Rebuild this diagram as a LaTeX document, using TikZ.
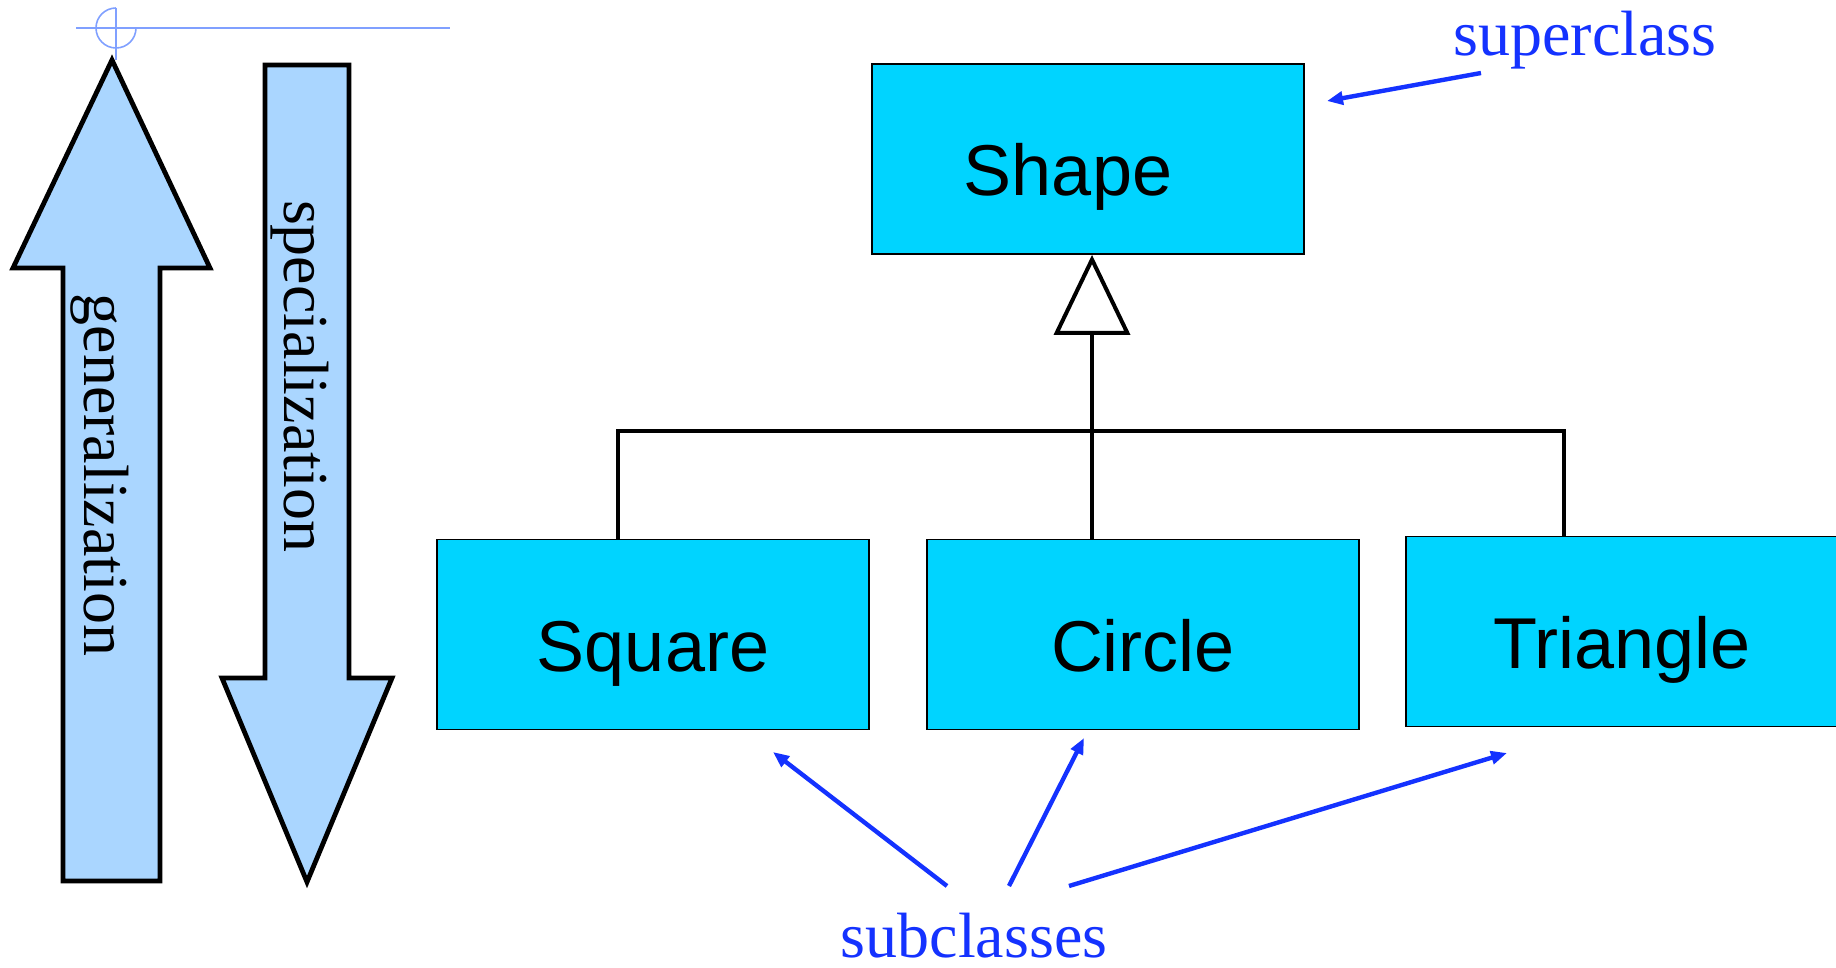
\documentclass[tikz,border=0pt]{standalone}
\usepackage{fontspec}
\setmainfont{Liberation Serif}
\newfontfamily\boxfont{Liberation Sans}
\usetikzlibrary{arrows.meta}

\definecolor{boxcyan}{RGB}{0,212,255}
\definecolor{arrowblue}{RGB}{170,214,255}
\definecolor{noteblue}{RGB}{20,50,255}
\definecolor{guideblue}{RGB}{128,160,255}

\tikzset{
  cls/.style={draw=black, line width=0.9pt, fill=boxcyan,
    minimum width=216pt, minimum height=95pt, inner sep=0pt,
    text height=37pt, text depth=0pt, font=\boxfont\fontsize{36}{40}\selectfont},
  link/.style={line width=2pt},
  inherit/.style={line width=2pt, -{Triangle[open, length=40pt, width=38pt]}},
  bigarrow/.style={draw=black, line width=2.4pt, fill=arrowblue, line join=miter},
  note/.style={text=noteblue, font=\fontsize{32}{36}\selectfont},
  pointer/.style={draw=noteblue, line width=2.2pt, -{Triangle[length=8pt, width=6.5pt]}},
}

\begin{document}
\begin{tikzpicture}[x=0.5pt, y=-0.5pt]
  \useasboundingbox (0,0) rectangle (1836,968);

  % Guide cross at the top left
  \draw[guideblue, line width=0.8pt] (76,28) -- (450,28);
  \draw[guideblue, line width=0.8pt] (116,8) -- (116,60);
  \draw[guideblue, line width=0.8pt] (116,8) arc[start angle=90, end angle=360, radius=10pt];

  % Generalization and specialization arrows
  \draw[bigarrow] (112,60) -- (210,268) -- (160,268) -- (160,881) -- (63,881) -- (63,268) -- (13,268) -- cycle;
  \draw[bigarrow] (265,65) -- (349,65) -- (349,678) -- (392,678) -- (307,882) -- (222,678) -- (265,678) -- cycle;
  \node[rotate=-90, font=\fontsize{32}{36}\selectfont] (gen) at (100,475) {generalization};
  \node[rotate=-90, font=\fontsize{32}{36}\selectfont] (spec) at (300,376) {specialization};

  % Classes
  \node[cls] (Shape) at (1088,159) {Shape\hspace*{20pt}};
  \node[cls] (Square) at (653,634.5) {Square};
  \node[cls] (Circle) at (1143,634.5) {Circle};
  \node[cls] (Triangle) at (1622,631.5) {Triangle};

  % Inheritance tree
  \coordinate (busL) at (618,431);
  \coordinate (busR) at (1564,431);
  \coordinate (join) at (1092,431);
  \draw[link] (busL |- Square.north) -- (busL) -- (busR) -- (busR |- Triangle.north);
  \draw[inherit] (join |- Circle.north) -- (join |- Shape.south);

  % Annotations
  \node[note, anchor=base] (super) at (1585,56) {superclass};
  \node[note, anchor=base] (sub) at (974,957) {subclasses};
  \coordinate (superfoot) at (1481,73);
  \coordinate (supertip) at (1327,101);
  \coordinate (subfootA) at (947,886);
  \coordinate (subfootB) at (1009,886);
  \coordinate (subfootC) at (1069,886);
  \coordinate (subtipA) at (773,752);
  \coordinate (subtipB) at (1084,738);
  \coordinate (subtipC) at (1507,753);
  \draw[pointer] (superfoot) -- (supertip);
  \draw[pointer] (subfootA) -- (subtipA);
  \draw[pointer] (subfootB) -- (subtipB);
  \draw[pointer] (subfootC) -- (subtipC);
\end{tikzpicture}
\end{document}
